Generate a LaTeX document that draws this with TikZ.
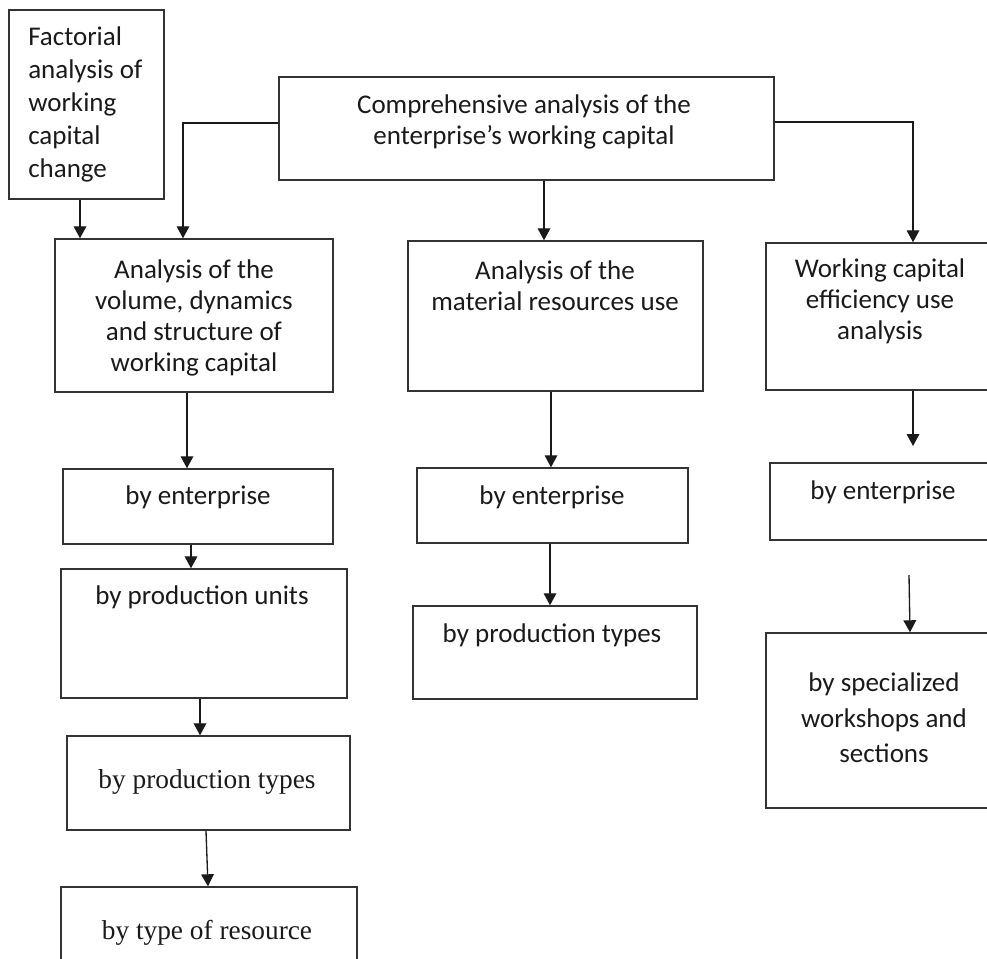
\documentclass[tikz,border=0pt]{standalone}
\usepackage{fontspec}
\setmainfont{Carlito}
\newfontfamily\timesfont{Liberation Serif}
\usetikzlibrary{arrows.meta,fit,positioning}
\definecolor{chLine}{HTML}{333333}
\definecolor{chInk}{HTML}{1A1A1A}
\tikzset{
  ch diagram/.style={x=0.75pt, y=-0.75pt, text=chInk,
    font=\fontsize{20.25}{23.25}\selectfont},
  ch box/.style={draw=chLine, line width=1.1pt, inner sep=0pt},
  ch text/.style={align=center, inner sep=0pt},
  ch serif/.style={ch text, font=\timesfont\fontsize{20.5}{23.5}\selectfont},
  ch arrow/.style={-{Triangle[length=9pt,width=9.5pt]}, draw=chInk, line width=1pt}
}

\begin{document}
\begin{tikzpicture}[ch diagram]
\useasboundingbox (0,0) rectangle (987,958);
\clip (0,0) rectangle (987,958);
% boxes
\node[ch box,fit={(9,10) (164,199)}] (fact) {};
\node[ch box,fit={(279,77) (774,180)}] (comp) {};
\node[ch box,fit={(55,239) (333,392)}] (vol) {};
\node[ch box,fit={(408,241) (703,391)}] (mat) {};
\node[ch box,fit={(766,243) (1000,390)}] (eff) {};
\node[ch box,fit={(63,469) (333,544)}] (volEnt) {};
\node[ch box,fit={(61,569) (347,698)}] (volUnits) {};
\node[ch box,fit={(67,736) (350,830)}] (volTypes) {};
\node[ch box,fit={(61,887) (357,990)}] (volRes) {};
\node[ch box,fit={(417,468) (688,543)}] (matEnt) {};
\node[ch box,fit={(413,606) (697,699)}] (matTypes) {};
\node[ch box,fit={(770,463) (1000,540)}] (effEnt) {};
\node[ch box,fit={(766,633) (1000,808)}] (effShops) {};
% texts
\node[ch text,align=left,anchor=west,font=\fontsize{20.25}{24.75}\selectfont]
  (factText) at (28,104) {Factorial\\analysis of\\working\\capital\\change};
\node[ch text] (compText) at (524,122) {Comprehensive analysis of the\\enterprise’s working capital};
\node[ch text] (volText) at (194,318) {Analysis of the\\volume, dynamics\\and structure of\\working capital};
\node[ch text] (matText) at (555,286) {Analysis of the\\material resources use};
\node[ch text] (effText) at (880,301) {Working capital\\efficiency use\\analysis};
\node[ch text] (volEntText) at (198,497) {by enterprise};
\node[ch text] (volUnitsText) at (202,597) {by production units};
\node[ch serif] (volTypesText) at (207,782) {by production types};
\node[ch serif] (volResText) at (207,933) {by type of resource};
\node[ch text] (matEntText) at (552,497) {by enterprise};
\node[ch text] (matTypesText) at (552,635) {by production types};
\node[ch text] (effEntText) at (883,492) {by enterprise};
\node[ch text,font=\fontsize{20.25}{26.6}\selectfont] (effShopsText) at (884,718) {by specialized\\workshops and\\sections};
% lanes of the connectors
\coordinate (factLane) at (80,0);
\coordinate (compLeft) at (183,123);
\coordinate (compMid) at (544,0);
\coordinate (compRight) at (913,122);
\coordinate (effGap) at (913,446);
\coordinate (shopsGap) at (909,575);
% connectors
\draw[ch arrow] (fact.south -| factLane) -- (vol.north -| factLane);
\draw[ch arrow] (comp.west |- compLeft) -| (vol.north -| compLeft);
\draw[ch arrow] (comp.south -| compMid) -- (mat.north -| compMid);
\draw[ch arrow] (comp.east |- compRight) -| (eff.north -| compRight);
\draw[ch arrow] (vol.south -| 187,0) -- (volEnt.north -| 187,0);
\draw[ch arrow] (volEnt.south -| 191,0) -- (volUnits.north -| 191,0);
\draw[ch arrow] (volUnits.south -| 200,0) -- (volTypes.north -| 200,0);
\draw[ch arrow] (volTypes.south -| 206,0) -- (volRes.north -| 208,0);
\draw[ch arrow] (mat.south -| 551,0) -- (matEnt.north -| 551,0);
\draw[ch arrow] (matEnt.south -| 550,0) -- (matTypes.north -| 550,0);
\draw[ch arrow] (eff.south -| effGap) -- (effGap);
\draw[ch arrow] (shopsGap) -- (effShops.north -| 910,0);
\end{tikzpicture}
\end{document}
